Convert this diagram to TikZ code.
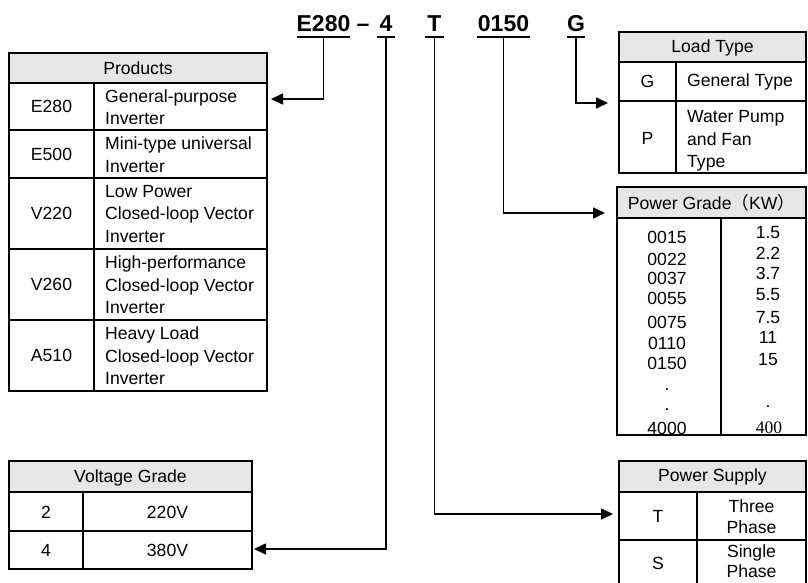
\documentclass[tikz,border=0pt]{standalone}
\usepackage{fontspec}
\setmainfont{Liberation Sans}
\newfontfamily\serifnum{Liberation Serif}
\newfontfamily\cjk{Noto Sans CJK SC}
\usetikzlibrary{arrows.meta}
\definecolor{hdrgray}{RGB}{230,230,230}
\begin{document}
\begin{tikzpicture}[x=1pt,y=-1pt,
  cell/.style={font=\fontsize{17.6}{22.5}\selectfont, inner sep=0pt, align=center},
  cellL/.style={cell, align=left, anchor=west},
  title/.style={font=\fontsize{23}{27}\selectfont\bfseries, inner sep=0pt, anchor=base},
  uline/.style={fill=black, inner sep=0pt, minimum height=2.5pt},
  outer/.style={line width=1.6pt},
  inner/.style={line width=1.1pt},
  conn/.style={line width=1.6pt, -{Triangle[length=12pt,width=11pt]}},
]
\useasboundingbox (0,0) rectangle (808,583);

% ---- code title ----
\node[title] (tE) at (323.5,32) {E280};
\node[title] (tD) at (363,32) {–};
\node[title] (t4) at (386,32) {4};
\node[title] (tT) at (434.5,32) {T};
\node[title] (tP) at (503.5,32) {0150};
\node[title] (tG) at (576,32) {G};
\node[uline, minimum width=53pt] (uE) at (323.5,37) {};
\node[uline, minimum width=18pt] (u4) at (386,37) {};
\node[uline, minimum width=19pt] (uT) at (434.5,37) {};
\node[uline, minimum width=53pt] (uP) at (503.5,37) {};
\node[uline, minimum width=18pt] (uG) at (576,37) {};

% ---- Products ----
\fill[hdrgray] (9,53) rectangle (267,83);
\draw[inner] (9,83) -- (267,83) (9,130) -- (267,130) (9,178) -- (267,178)
  (9,249) -- (267,249) (9,320) -- (267,320) (94,83) -- (94,391);
\draw[outer] (9,53) rectangle (267,391);
\node[cell] (prodH) at (138,68) {Products};
\node[cell] (pE280) at (51.5,106.5) {E280};
\node[cellL] (pE280d) at (105,107) {General-purpose\\Inverter};
\node[cell] (pE500) at (51.5,154) {E500};
\node[cellL] (pE500d) at (105,154.5) {Mini-type universal\\Inverter};
\node[cell] (pV220) at (51.5,213.5) {V220};
\node[cellL] (pV220d) at (105,214) {Low Power\\Closed-loop Vector\\Inverter};
\node[cell] (pV260) at (51.5,284.5) {V260};
\node[cellL] (pV260d) at (105,285) {High-performance\\Closed-loop Vector\\Inverter};
\node[cell] (pA510) at (51.5,355.5) {A510};
\node[cellL] (pA510d) at (105,356) {Heavy Load\\Closed-loop Vector\\Inverter};

% ---- Load Type ----
\fill[hdrgray] (619,32) rectangle (806,62);
\draw[inner] (619,62) -- (806,62) (619,101) -- (806,101) (676,62) -- (676,173);
\draw[outer] (619,32) rectangle (806,173);
\node[cell] (ltH) at (712.5,48) {Load Type};
\node[cell] (ltG) at (647.5,81.5) {G};
\node[cellL] (ltGd) at (687,81.5) {General Type};
\node[cell] (ltP) at (647.5,138) {P};
\node[cellL] (ltPd) at (687,141) {Water Pump\\and Fan\\Type};

% ---- Power Grade ----
\fill[hdrgray] (617,187) rectangle (806,218);
\draw[inner] (617,218) -- (806,218) (721,218) -- (721,435);
\draw[outer] (617,187) rectangle (806,435);
\node[cell] (pgH) at (711.5,203) {Power Grade{\cjk （}KW{\cjk ）}};
\foreach \t/\yy [count=\i] in {0015/237,0022/259,0037/278,0055/298,0075/322,0110/343,0150/363,./390,./410,4000/428}
  \node[cell] (pgL\i) at (667,\yy) {\t};
\foreach \t/\yy [count=\i] in {1.5/233,2.2/253,3.7/273,5.5/295,7.5/318,11/337,15/360,./407}
  \node[cell] (pgR\i) at (768,\yy) {\t};
\node[cell, font=\fontsize{17.6}{22.5}\serifnum] (pgR9) at (769,428) {400};

% ---- Voltage Grade ----
\fill[hdrgray] (9,461) rectangle (252,492);
\draw[inner] (9,492) -- (252,492) (9,531) -- (252,531) (83,492) -- (83,569);
\draw[outer] (9,461) rectangle (252,569);
\node[cell] (vgH) at (130.5,478) {Voltage Grade};
\node[cell] (vg2) at (46,512) {2};
\node[cell] (vg2d) at (167.5,512) {220V};
\node[cell] (vg4) at (46,550) {4};
\node[cell] (vg4d) at (167.5,550) {380V};

% ---- Power Supply ----
\fill[hdrgray] (619,461) rectangle (806,492);
\draw[inner] (619,492) -- (806,492) (619,540) -- (806,540) (697,492) -- (697,592);
\draw[outer] (619,461) rectangle (806,592);
\node[cell] (psH) at (712.5,477) {Power Supply};
\node[cell] (psT) at (658,516) {T};
\node[cell, font=\fontsize{17.6}{21}\selectfont] (psTd) at (751.5,517) {Three\\Phase};
\node[cell] (psS) at (658,563) {S};
\node[cell, font=\fontsize{17.6}{20}\selectfont] (psSd) at (751.5,561) {Single\\Phase};

% ---- connectors ----
\coordinate (aProd) at (271,99);
\coordinate (aVolt) at (254,549);
\coordinate (aSup) at (613,514);
\coordinate (aGrade) at (605,213);
\coordinate (aLoad) at (608,103);
\draw[conn] (uE.south) |- (aProd);
\draw[conn] (u4.south) |- (aVolt);
\draw[conn] (uT.south) |- (aSup);
\draw[conn] (uP.south) |- (aGrade);
\draw[conn] (uG.south) |- (aLoad);
\end{tikzpicture}
\end{document}
